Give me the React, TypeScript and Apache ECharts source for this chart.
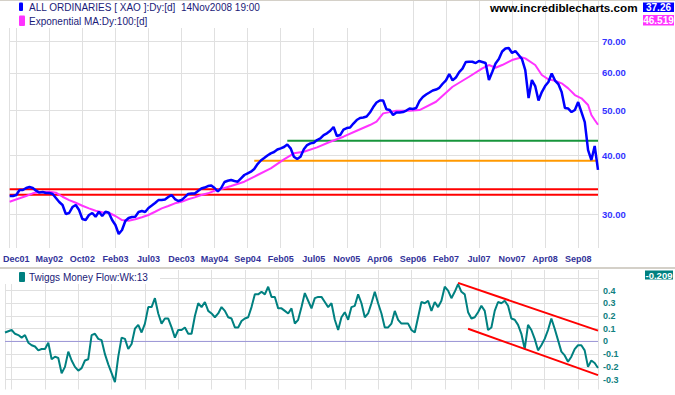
import React, { useEffect, useRef } from "react";
import * as echarts from "echarts";

// ---- data ----
const tickLabels = [
  "Dec01", "May02", "Oct02", "Feb03", "Jul03", "Dec03", "May04", "Sep04", "Feb05",
  "Jul05", "Nov05", "Apr06", "Sep06", "Feb07", "Jul07", "Nov07", "Apr08", "Sep08",
];

// All Ordinaries (XAO) weekly-ish closes, in hundreds
const price = [
  32.78, 32.78, 32.94, 33.75, 33.75, 34.09, 34.25, 34.09, 33.64, 33.34,
  33.42, 33.26, 33.26, 33.10, 32.46, 31.82, 31.36, 30.0, 30.15, 31.05,
  31.36, 30.6, 29.27, 29.13, 29.86, 30.15, 29.61, 30.34, 29.71, 30.34,
  30.19, 29.13, 28.43, 27.2, 27.73, 28.99, 29.42, 29.56, 29.61, 30.3,
  30.45, 30.3, 30.9, 31.28, 31.67, 32.13, 32.13, 32.22, 32.61, 32.94,
  32.29, 31.98, 32.13, 32.61, 33.1, 33.18, 33.18, 33.59, 34.0, 34.17,
  34.42, 34.51, 34.09, 33.51, 34.09, 35.11, 35.33, 35.46, 35.28, 35.16,
  35.75, 36.34, 36.64, 36.93, 37.42, 38.35, 39.02, 39.5, 39.99, 40.42,
  40.68, 41.18, 41.43, 41.69, 42.21, 41.43, 39.75, 39.3, 39.75, 41.22,
  42.1, 42.45, 42.58, 43.15, 43.51, 44.22, 44.59, 45.17, 46.0, 44.01,
  44.22, 45.43, 45.77, 45.88, 46.79, 47.6, 48.07, 48.19, 48.43, 49.39,
  50.74, 51.88, 52.39, 52.39, 50.17, 50.0, 48.79, 49.39, 49.39, 49.51,
  49.88, 50.37, 50.25, 50.49, 52.26, 53.3, 53.96, 54.49, 55.03, 55.3,
  55.76, 56.89, 57.85, 59.67, 57.85, 58.65, 60.26, 61.27, 63.3, 63.39,
  63.39, 62.98, 63.61, 63.3, 62.98, 57.94, 60.26, 62.83, 64.23, 66.64,
  67.63, 67.8, 66.16, 66.81, 65.51, 64.23, 60.85, 53.04, 57.94, 56.25,
  52.39, 54.62, 56.25, 57.37, 59.82, 57.8, 56.81, 54.62, 50.49, 50.37,
  49.51, 50.0, 52.0, 49.51, 47.14, 41.08, 39.11, 41.9, 37.26,
];

// Exponential MA 100 read at these category positions
const emaIdx = [
  0, 3, 5, 7, 9, 12, 14, 16, 18, 20, 22, 24, 26, 28, 30, 32, 34, 36, 38, 40,
  42, 44, 46, 48, 50, 52, 54, 56, 58, 60, 62, 63, 67, 71, 75, 79, 83, 86, 89, 93,
  97, 101, 105, 109, 111, 113, 117, 121, 124, 129, 134, 139, 143, 145, 147, 149, 152, 155, 156, 159,
  161, 163, 165, 167, 169, 171, 173, 175, 176, 177, 178,
];
const emaVals = [
  31.87, 32.41, 32.78, 33.21, 33.42, 33.47, 33.31, 32.66, 32.13, 31.71, 31.25, 30.85, 30.49, 30.25, 30.19, 29.71, 29.13, 29.03, 29.23, 29.52,
  29.86, 30.34, 30.85, 31.21, 31.62, 31.87, 32.25, 32.56, 32.94, 33.21, 33.64, 33.75, 34.42, 35.16, 36.34, 37.55, 39.25, 40.42, 40.74, 41.63,
  42.79, 43.86, 45.17, 46.45, 47.21, 49.19, 49.83, 49.83, 50.0, 52.08, 56.06, 58.88, 61.37, 62.37, 61.55, 62.37, 63.92, 64.77, 64.45, 62.37,
  59.38, 58.14, 57.74, 57.01, 55.62, 53.82, 52.96, 51.24, 48.79, 47.6, 46.519,
];

// Twiggs Money Flow (13 week)
const tmf = [
  0.07, 0.08, 0.09, 0.06, 0.05, 0.03, 0.05, -0.01, -0.03, -0.04,
  -0.07, -0.06, -0.06, -0.01, -0.14, -0.12, -0.13, -0.25, -0.2, -0.08,
  -0.15, -0.2, -0.23, -0.21, -0.15, -0.14, 0.05, 0.06, 0.02, 0.01,
  -0.1, -0.18, -0.25, -0.32, -0.12, 0.03, 0.02, -0.06, -0.02, 0.1,
  0.13, 0.07, 0.14, 0.27, 0.27, 0.34, 0.22, 0.14, 0.18, 0.18,
  0.11, 0.03, 0.09, 0.09, 0.11, 0.06, 0.06, 0.2, 0.3, 0.27,
  0.31, 0.24, 0.22, 0.19, 0.22, 0.27, 0.24, 0.19, 0.18, 0.11,
  0.11, 0.16, 0.18, 0.19, 0.27, 0.37, 0.37, 0.39, 0.37, 0.43,
  0.35, 0.35, 0.26, 0.26, 0.24, 0.22, 0.26, 0.14, 0.17, 0.27,
  0.38, 0.32, 0.26, 0.34, 0.35, 0.35, 0.31, 0.27, 0.3, 0.17,
  0.09, 0.19, 0.23, 0.17, 0.27, 0.28, 0.37, 0.3, 0.19, 0.22,
  0.3, 0.39, 0.3, 0.22, 0.11, 0.11, 0.14, 0.24, 0.17, 0.14,
  0.14, 0.14, 0.09, 0.07, 0.19, 0.31, 0.3, 0.32, 0.24, 0.31,
  0.27, 0.32, 0.43, 0.4, 0.34, 0.39, 0.45, 0.39, 0.37, 0.23,
  0.18, 0.19, 0.23, 0.28, 0.24, 0.09, 0.11, 0.24, 0.31, 0.3,
  0.32, 0.28, 0.18, 0.17, 0.13, 0.06, -0.06, 0.13, 0.09, 0.02,
  -0.07, -0.03, 0.02, 0.09, 0.18, 0.1, 0.01, -0.08, -0.11, -0.16,
  -0.12, -0.06, -0.03, -0.03, -0.07, -0.2, -0.15, -0.17, -0.209,
];

const priceTicks = [30, 40, 50, 60, 70];
const priceRange = [25.39, 85.84];
const tmfTicks = [-0.3, -0.2, -0.1, 0, 0.1, 0.2, 0.3, 0.4];
const tmfGridValues = [-0.3, -0.2, -0.1, 0, 0.1, 0.2, 0.3, 0.4, 0.5];
const tmfRange = [-0.378, 0.5616];

// drawn trend lines: [start index, end index, value]
const redLevels = [33.9, 33.0];
const greenLine = [84, 178, 43.0];
const orangeLine = [74, 178, 38.98];
const upperChannel = [[136, 0.46], [178, 0.085]];
const lowerChannel = [[139, 0.1], [178, -0.265]];

const FONT = "'Liberation Sans', Arial, sans-serif";

export default function App() {
  const ref = useRef<HTMLDivElement>(null);

  useEffect(() => {
    if (!ref.current) return;
    const chart = echarts.init(ref.current, undefined, { renderer: "svg" });
    const N = price.length;
    const LN = Math.log;
    const isTick = (i: number) => i >= 2 && (i - 2) % 10 === 0;
    const isGrid = (i: number) => i === 0 || i === N - 1 || isTick(i);
    const cats = Array.from({ length: N }, (_, i) =>
      isTick(i) ? tickLabels[(i - 2) / 10] ?? "" : ""
    );
    const gridLine = { color: "#e0e0e0", width: 1 };
    const lastPrice = price[N - 1].toFixed(2);
    const lastEma = emaVals[emaVals.length - 1].toFixed(3);
    const lastTmf = tmf[tmf.length - 1].toFixed(3);

    const flat = (from: number, to: number, v: number) => [
      [from, v],
      [to, v],
    ];

    const lineSeries = (
      name: string,
      data: any[],
      color: string,
      width: number,
      axis: number,
      z: number
    ) => ({
      name,
      type: "line",
      xAxisIndex: axis,
      yAxisIndex: axis,
      data,
      showSymbol: false,
      symbol: "none",
      silent: true,
      z,
      lineStyle: { color, width },
      itemStyle: { color },
    });

    const option: any = {
      animation: false,
      backgroundColor: "#ffffff",
      textStyle: { fontFamily: FONT },
      grid: [
        { left: 5, right: 77, top: 0, height: 248 },
        { left: 5, right: 77, top: 270, height: 119.5 },
      ],
      xAxis: [
        {
          type: "category",
          gridIndex: 0,
          data: cats,
          boundaryGap: false,
          axisLine: { show: false },
          axisTick: { show: false },
          axisLabel: {
            interval: (i: number) => isTick(i),
            color: "#333399",
            fontSize: 9,
            fontWeight: "bold",
            fontFamily: FONT,
            margin: 6,
          },
          splitLine: { show: true, interval: (i: number) => isGrid(i), lineStyle: gridLine },
        },
        {
          type: "category",
          gridIndex: 1,
          data: cats,
          boundaryGap: false,
          axisLine: { show: false },
          axisTick: { show: false },
          axisLabel: { show: false },
          splitLine: { show: true, interval: (i: number) => isGrid(i), lineStyle: gridLine },
        },
      ],
      yAxis: [
        {
          type: "value",
          gridIndex: 0,
          position: "right",
          min: LN(priceRange[0]),
          max: LN(priceRange[1]),
          axisLine: { show: false },
          axisTick: { show: false, customValues: priceTicks.map(LN) },
          axisLabel: {
            customValues: priceTicks.map(LN),
            formatter: (v: number) => Math.exp(v).toFixed(2),
            color: "#3333ff",
            fontSize: 9.5,
            fontWeight: "bold",
            fontFamily: FONT,
            margin: 4,
          },
          splitLine: { show: true, lineStyle: gridLine },
        },
        {
          type: "value",
          gridIndex: 1,
          position: "right",
          min: tmfRange[0],
          max: tmfRange[1],
          axisLine: { show: false },
          axisTick: { show: false, customValues: tmfGridValues },
          axisLabel: {
            customValues: tmfTicks,
            formatter: (v: number) => {
              const r = Math.round(v * 10) / 10;
              return r === 0 ? "0" : String(r);
            },
            color: "#108080",
            fontSize: 9,
            fontWeight: "bold",
            fontFamily: FONT,
            margin: 5,
          },
          splitLine: { show: true, lineStyle: gridLine },
        },
      ],
      series: [
        ...redLevels.map((v, k) =>
          lineSeries("Red " + k, flat(0, N - 1, LN(v)), "#ff0000", 2, 0, 2)
        ),
        lineSeries("Green", flat(greenLine[0], greenLine[1], LN(greenLine[2])), "#17953b", 2, 0, 2),
        lineSeries("Orange", flat(orangeLine[0], orangeLine[1], LN(orangeLine[2])), "#ff9900", 2, 0, 2),
        lineSeries(
          "Exponential MA:Dy:100:[d]",
          emaIdx.map((i, k) => [i, LN(emaVals[k])]),
          "#ff33ff",
          2,
          0,
          3
        ),
        lineSeries("ALL ORDINARIES", price.map(LN), "#0000ff", 2.5, 0, 4),
        lineSeries("Zero", flat(0, N - 1, 0), "#9a94d6", 1, 1, 2),
        lineSeries("Twiggs Money Flow", tmf, "#008080", 2, 1, 3),
        lineSeries("Upper channel", upperChannel, "#ff0000", 2, 1, 4),
        lineSeries("Lower channel", lowerChannel, "#ff0000", 2, 1, 4),
      ],
      graphic: [
        { type: "rect", z: 100, shape: { x: 0, y: 0, width: 395, height: 28 }, style: { fill: "#ffffff" } },
        { type: "rect", z: 100, shape: { x: 0, y: 270, width: 160, height: 14 }, style: { fill: "#ffffff" } },
        { type: "rect", z: 101, shape: { x: 0, y: 0, width: 675, height: 1 }, style: { fill: "#d4d0c8" } },
        { type: "rect", z: 101, shape: { x: 0, y: 267, width: 675, height: 2 }, style: { fill: "#d4d0c8" } },
        { type: "rect", z: 101, shape: { x: 19, y: 2.5, width: 4, height: 8.5, r: 1 }, style: { fill: "#0000ff" } },
        {
          type: "text", z: 101, x: 29, y: 7,
          style: { text: "ALL ORDINARIES [ XAO ]:Dy:[d]  14Nov2008 19:00", fill: "#1a1a78", fontSize: 10, fontFamily: FONT, verticalAlign: "middle" },
        },
        { type: "rect", z: 101, shape: { x: 19, y: 15.5, width: 6, height: 10.5, r: 1 }, style: { fill: "#ff33ff" } },
        {
          type: "text", z: 101, x: 29, y: 21,
          style: { text: "Exponential MA:Dy:100:[d]", fill: "#1a1a78", fontSize: 10, fontFamily: FONT, verticalAlign: "middle" },
        },
        { type: "rect", z: 101, shape: { x: 19, y: 272, width: 6, height: 10, r: 1 }, style: { fill: "#008080" } },
        {
          type: "text", z: 101, x: 29, y: 277,
          style: { text: "Twiggs Money Flow:Wk:13", fill: "#1a1a78", fontSize: 10, fontFamily: FONT, verticalAlign: "middle" },
        },
        {
          type: "text", z: 101, x: 490, y: 7.5,
          style: { text: "www.incrediblecharts.com", fill: "#000000", fontSize: 11.7, fontWeight: "bold", fontFamily: FONT, verticalAlign: "middle" },
        },
        { type: "rect", z: 101, shape: { x: 643, y: 2.5, width: 31, height: 9.5 }, style: { fill: "#0000ff" } },
        {
          type: "text", z: 102, x: 658.5, y: 7.5,
          style: { text: lastPrice, fill: "#ffffff", fontSize: 10, fontWeight: "bold", fontFamily: FONT, align: "center", verticalAlign: "middle" },
        },
        { type: "rect", z: 101, shape: { x: 643, y: 15, width: 31, height: 10.5 }, style: { fill: "#ff33ff" } },
        {
          type: "text", z: 102, x: 658.5, y: 20.5,
          style: { text: lastEma, fill: "#ffffff", fontSize: 10, fontWeight: "bold", fontFamily: FONT, align: "center", verticalAlign: "middle" },
        },
        { type: "rect", z: 101, shape: { x: 645, y: 270.5, width: 28, height: 9 }, style: { fill: "#008080" } },
        {
          type: "text", z: 102, x: 659, y: 275.2,
          style: { text: lastTmf, fill: "#ffffff", fontSize: 9.5, fontWeight: "bold", fontFamily: FONT, align: "center", verticalAlign: "middle" },
        },
      ],
    };

    chart.setOption(option);
    return () => chart.dispose();
  }, []);

  return (
    <div
      ref={ref}
      style={{ position: "fixed", left: 0, top: 0, width: 675, height: 395, background: "#fff" }}
    />
  );
}
